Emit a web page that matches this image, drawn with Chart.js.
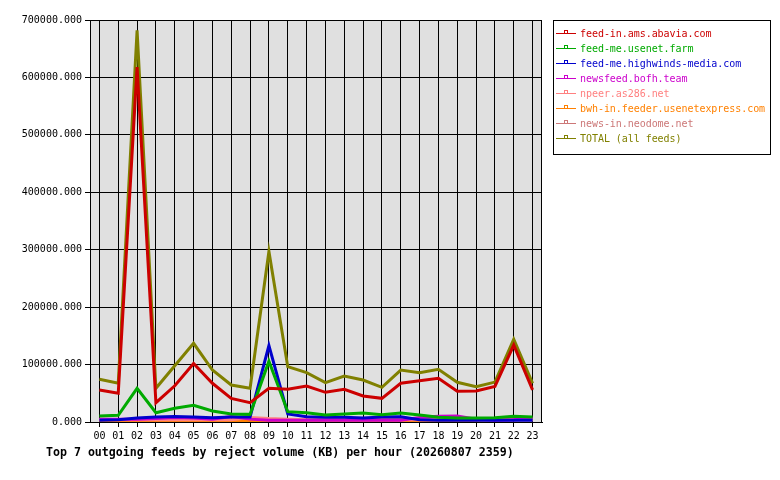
<!DOCTYPE html>
<html>
<head>
<meta charset="utf-8">
<script src="https://cdn.jsdelivr.net/npm/chart.js@4.4.1/dist/chart.umd.min.js"></script>
<style>
  body { margin: 0; background: #fff; }
  #wrap { position: relative; width: 780px; height: 480px; }
  #legend {
    position: absolute; left: 553px; top: 20px; width: 216px; height: 128px;
    border: 1px solid #000; padding-top: 5px; box-sizing: content-box;
    font: 10px "DejaVu Sans Mono", monospace;
  }
  .row { position: relative; height: 15px; line-height: 15px; padding-left: 26px; white-space: nowrap; letter-spacing: -0.05px; }
  .row .ln { position: absolute; left: 2px; top: 7px; width: 20px; height: 1px; }
  .row .mk { position: absolute; left: 10px; top: 4px; width: 2px; height: 2px; border: 1px solid; border-bottom: none; }
  #title {
    position: absolute; left: 46px; top: 445px; white-space: nowrap;
    font: bold 11.6px "DejaVu Sans Mono", monospace; line-height: 14px; color: #000;
  }
</style>
</head>
<body>
<div id="wrap">
  <canvas id="chart" width="780" height="480"></canvas>
  <div id="legend"></div>
  <div id="title">Top 7 outgoing feeds by reject volume (KB) per hour (20260807 2359)</div>
</div>
<script>
const hours = ['00','01','02','03','04','05','06','07','08','09','10','11',
               '12','13','14','15','16','17','18','19','20','21','22','23'];

const feedNames = [
  'feed-in.ams.abavia.com',
  'feed-me.usenet.farm',
  'feed-me.highwinds-media.com',
  'newsfeed.bofh.team',
  'npeer.as286.net',
  'bwh-in.feeder.usenetexpress.com',
  'news-in.neodome.net',
  'TOTAL (all feeds)'
];
const feedColors = ['#cc0000', '#00aa00', '#0000cc', '#cc00cc', '#ff8080', '#ff8000', '#cc7777', '#808000'];

const abavia    = [55700, 50000, 618000, 33600, 63000, 102000, 67400, 41200, 33600, 58700, 56900, 62700,
                   51700, 56900, 45300, 41200, 67400, 71900, 76100, 53500, 54000, 62000, 134000, 56000];
const usenetFarm = [10400, 11600, 58700, 16200, 23800, 29000, 19100, 13900, 13300, 106000, 18000, 16200,
                   12200, 13900, 15700, 12800, 15700, 12200, 8200, 7000, 7000, 7600, 9900, 8700];
const highwinds = [3000, 4000, 7000, 8700, 9500, 8700, 7500, 8700, 8700, 133000, 13900, 9300,
                   8200, 8200, 7000, 8500, 9300, 4000, 3000, 3000, 3000, 3000, 3000, 3000];
const bofh      = [5000, 5000, 5000, 6000, 8000, 7000, 5000, 9500, 5000, 3000, 3000, 3000,
                   3000, 3000, 3000, 3000, 3000, 8000, 10000, 10500, 5000, 3000, 4000, 6000];
const npeer     = [5000, 4000, 4000, 4000, 4000, 4000, 4000, 4000, 8000, 6000, 5000, 4000,
                   4000, 4000, 4000, 4000, 4000, 4000, 4000, 4000, 4000, 4000, 4000, 4000];
const bwh       = [2000, 2000, 2000, 2000, 2000, 2000, 2000, 2000, 2000, 2000, 2000, 2000,
                   2000, 2000, 2000, 2000, 2000, 2000, 2000, 2000, 3000, 5000, 5000, 5000];
const neodome   = [3000, 3000, 3000, 3000, 3000, 3000, 3000, 3000, 3000, 3000, 3000, 3000,
                   5000, 5000, 5000, 5000, 5000, 5000, 5000, 4000, 4000, 4000, 4000, 4000];
const total     = [74300, 67400, 682000, 58700, 98000, 137000, 90500, 64400, 58700, 297000, 96300, 85900,
                   68500, 80100, 73100, 60400, 90500, 85900, 91700, 69100, 61500, 69500, 144000, 67400];

const series = [abavia, usenetFarm, highwinds, bofh, npeer, bwh, neodome, total];

// legend built as html
const legend = document.getElementById('legend');
feedNames.forEach((name, i) => {
  const row = document.createElement('div');
  row.className = 'row';
  row.style.color = feedColors[i];
  row.innerHTML = `<span class="ln" style="background:${feedColors[i]}"></span>` +
                  `<span class="mk" style="border-color:${feedColors[i]}"></span>${name}`;
  legend.appendChild(row);
});

const plotFrame = {
  id: 'plotFrame',
  beforeDraw(chart) {
    const a = chart.chartArea, ctx = chart.ctx;
    ctx.save();
    ctx.fillStyle = '#e0e0e0';
    ctx.fillRect(a.left, a.top, a.right - a.left, a.bottom - a.top);
    ctx.restore();
  },
  afterDraw(chart) {
    const a = chart.chartArea, ctx = chart.ctx;
    ctx.save();
    ctx.strokeStyle = '#000';
    ctx.lineWidth = 1;
    ctx.strokeRect(a.left + 0.5, a.top + 0.5, a.right - a.left - 1, a.bottom - a.top);
    ctx.restore();
  }
};

const tickFont = { family: '"DejaVu Sans Mono", monospace', size: 10 };

new Chart(document.getElementById('chart'), {
  type: 'line',
  data: {
    labels: hours,
    datasets: series.map((d, i) => ({
      label: feedNames[i],
      data: d,
      borderColor: feedColors[i],
      backgroundColor: feedColors[i],
      borderWidth: 3,
      pointRadius: 0,
      tension: 0,
      fill: false
    }))
  },
  options: {
    responsive: false,
    animation: false,
    devicePixelRatio: 1,
    layout: { autoPadding: false, padding: { left: 0, right: 238, top: 20, bottom: 0 } },
    plugins: { legend: { display: false }, tooltip: { enabled: false } },
    scales: {
      x: {
        offset: true,
        grid: { offset: false, color: '#000', lineWidth: 1, tickLength: 5 },
        border: { color: '#000' },
        ticks: { color: '#000', font: tickFont, padding: 3, maxRotation: 0, autoSkip: false },
        afterFit: s => { s.height = 58; }
      },
      y: {
        min: 0,
        max: 700000,
        grid: { color: '#000', lineWidth: 1, tickLength: 5 },
        border: { color: '#000' },
        ticks: { stepSize: 100000, color: '#000', font: tickFont, padding: 3,
                 callback: v => v.toFixed(3) },
        afterFit: s => { s.width = 90; }
      }
    }
  },
  plugins: [plotFrame]
});
</script>
</body>
</html>
